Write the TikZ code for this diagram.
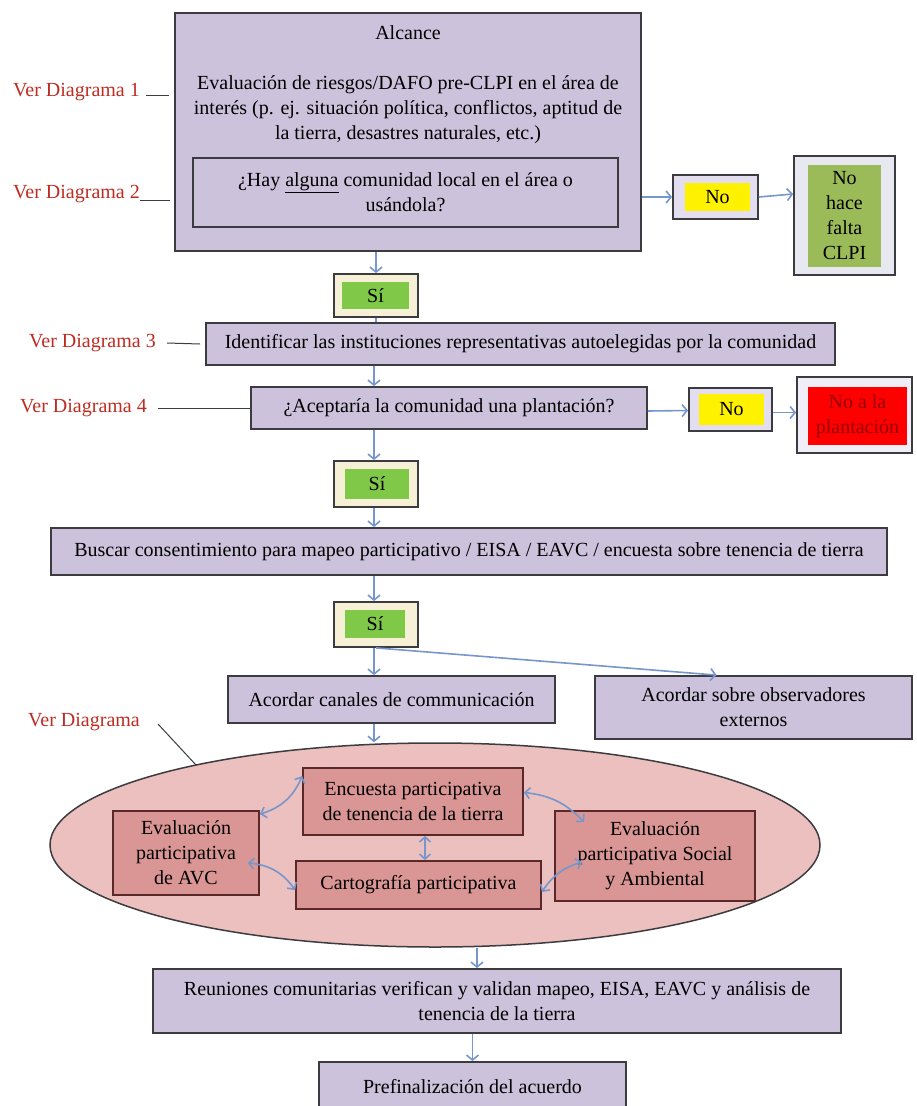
\documentclass[tikz,border=0pt]{standalone}
\usepackage{fontspec}
\setmainfont{Liberation Serif}
\usetikzlibrary{arrows.meta,shapes.geometric,calc}
\definecolor{lav}{RGB}{204,194,220}
\definecolor{lavlight}{RGB}{226,222,240}
\definecolor{bordc}{RGB}{60,60,64}
\definecolor{cream}{RGB}{246,240,214}
\definecolor{sigreen}{RGB}{128,200,72}
\definecolor{olive}{RGB}{155,187,89}
\definecolor{grayouter}{RGB}{232,232,240}
\definecolor{redouter}{RGB}{240,238,246}
\definecolor{darkred}{RGB}{150,0,0}
\definecolor{vdred}{RGB}{190,45,35}
\definecolor{arrc}{RGB}{118,150,204}
\definecolor{ellpink}{RGB}{236,192,190}
\definecolor{salmon}{RGB}{218,150,148}
\definecolor{pinkbord}{RGB}{90,40,40}
\begin{document}
\begin{tikzpicture}[x=1pt,y=-1pt,
  font=\fontsize{20}{25}\selectfont,
  box/.style={draw=bordc, line width=1.8pt, fill=lav, inner sep=0pt, align=center},
  outerbox/.style={draw=bordc, line width=1.8pt, inner sep=0pt},
  fillbox/.style={inner sep=0pt, align=center},
  pinkbox/.style={draw=pinkbord, line width=1.8pt, fill=salmon, inner sep=0pt, align=center},
  arr/.style={draw=arrc, line width=1.6pt, -{Straight Barb[length=5pt,width=12pt]}},
  darr/.style={draw=arrc, line width=1.6pt, {Straight Barb[length=5pt,width=11pt]}-{Straight Barb[length=5pt,width=11pt]}},
  plainline/.style={draw=arrc, line width=1.6pt},
  lbl/.style={text=vdred, anchor=west, inner sep=0pt},
  lblline/.style={draw=bordc, line width=1pt}
]
\useasboundingbox[fill=white] (0,0) rectangle (916,1106);

% --- Alcance block
\node[box, minimum width=466pt, minimum height=238pt] (alc) at (408,132) {};
\node[inner sep=0pt] (alct) at (408,33) {Alcance};
\node[inner sep=0pt, align=center] (evalt) at (408,110) {Evaluación de riesgos/DAFO pre-CLPI en el área de\\interés (p. ej. situación política, conflictos, aptitud de\\la tierra, desastres naturales, etc.)};
\node[box, minimum width=425pt, minimum height=69pt] (hay) at (405.5,192.5) {¿Hay \underline{alguna} comunidad local en el área o\\usándola?};

\node[outerbox, fill=lavlight, minimum width=85pt, minimum height=44pt] (no1) at (715.5,197) {};
\node[fillbox, fill=yellow, minimum width=65pt, minimum height=28pt] (no1t) at (717.5,197) {No};

\node[outerbox, fill=grayouter, minimum width=101pt, minimum height=119pt] (nohace) at (844.5,215.5) {};
\node[fillbox, fill=olive, minimum width=73pt, minimum height=102pt] (nohacet) at (844.5,216) {No\\hace\\falta\\CLPI};

\node[outerbox, fill=cream, minimum width=84pt, minimum height=43pt] (si1) at (376,295.5) {};
\node[fillbox, fill=sigreen, minimum width=67pt, minimum height=27pt] (si1t) at (375.5,295.5) {Sí};

\node[box, minimum width=629pt, minimum height=42pt] (ident) at (520.5,344) {Identificar las instituciones representativas autoelegidas por la comunidad};

\node[box, minimum width=396pt, minimum height=42pt] (acept) at (449,408) {¿Aceptaría la comunidad una plantación?};

\node[outerbox, fill=lavlight, minimum width=83pt, minimum height=43pt] (no2) at (730.5,409.5) {};
\node[fillbox, fill=yellow, minimum width=65pt, minimum height=31pt] (no2t) at (731.5,409.5) {No};

\node[outerbox, fill=redouter, minimum width=115pt, minimum height=76pt] (noplant) at (854.5,415) {};
\node[fillbox, fill=red, text=darkred, minimum width=99pt, minimum height=58pt] (noplantt) at (857.5,416) {No a la\\plantación};

\node[outerbox, fill=cream, minimum width=84pt, minimum height=46pt] (si2) at (376,484) {};
\node[fillbox, fill=sigreen, minimum width=64pt, minimum height=30pt] (si2t) at (377,484) {Sí};

\node[box, minimum width=836pt, minimum height=47pt] (buscar) at (469,551.5) {Buscar consentimiento para mapeo participativo / EISA / EAVC / encuesta sobre tenencia de tierra};

\node[outerbox, fill=cream, minimum width=84pt, minimum height=45pt] (si3) at (376,624.5) {};
\node[fillbox, fill=sigreen, minimum width=60pt, minimum height=28pt] (si3t) at (375,624) {Sí};

\node[box, minimum width=327pt, minimum height=47pt] (canales) at (391.5,699.5) {Acordar canales de communicación};
\node[box, minimum width=317pt, minimum height=63pt] (obs) at (753.5,707.5) {Acordar sobre observadores\\externos};

% --- ellipse
\node[draw=bordc, line width=1.5pt, fill=ellpink, ellipse, minimum width=770pt, minimum height=204pt, inner sep=0pt] (ell) at (435,845) {};
\node[pinkbox, minimum width=220pt, minimum height=67pt] (enc) at (413,801.5) {Encuesta participativa\\de tenencia de la tierra};
\node[pinkbox, minimum width=146pt, minimum height=84pt] (avc) at (186,853) {Evaluación\\participativa\\de AVC};
\node[pinkbox, minimum width=245pt, minimum height=48pt] (carto) at (418.5,885) {Cartografía participativa};
\node[pinkbox, minimum width=200pt, minimum height=90pt] (soc) at (655,856) {Evaluación\\participativa Social\\y Ambiental};

\node[box, minimum width=688pt, minimum height=64pt] (reun) at (497,1001) {Reuniones comunitarias verifican y validan mapeo, EISA, EAVC y análisis de\\tenencia de la tierra};
\node[box, minimum width=307pt, minimum height=50pt] (pref) at (472.5,1087) {Prefinalización del acuerdo};

% --- side labels
\node[lbl] (vd1) at (13,92) {Ver Diagrama 1};
\node[lbl] (vd2) at (13,194) {Ver Diagrama 2};
\node[lbl] (vd3) at (29,343) {Ver Diagrama 3};
\node[lbl] (vd4) at (20,408) {Ver Diagrama 4};
\node[lbl] (vd5) at (28,722) {Ver Diagrama};
\coordinate (vd1e) at (169,95);
\coordinate (vd2e) at (170,200);
\coordinate (vd5s) at (158,724);
\coordinate (vd5e) at (196,765);
\draw[lblline] ([xshift=6pt]vd1.east |- vd1e) -- (vd1e);
\draw[lblline] (vd2.east |- vd2e) -- (vd2e);
\draw[lblline] ([xshift=11pt]vd3.east) -- ([xshift=-5pt]ident.west);
\draw[lblline] ([xshift=11pt]vd4.east) -- (acept.west);
\draw[lblline] (vd5s) -- (vd5e);

% --- connectors
\draw[arr] (si1.north |- alc.south) -- (si1.north);
\draw[arr] (alc.east |- no1) -- (no1.west);
\draw[arr] (no1.east) -- ([yshift=3pt]nohace.west |- no1.east);
\draw[plainline] (si1.south) -- (si1.south |- ident.north);
\draw[arr] ([xshift=-2pt]si1.south |- ident.south) -- ([xshift=-2pt]si1.south |- acept.north);
\draw[arr] ([yshift=-3pt]acept.east) -- ([yshift=-1pt]no2.west);
\draw[arr] ([yshift=-3pt]no2.east) -- ([yshift=-3pt]noplant.west |- no2.east);
\draw[arr] ([xshift=-2pt]si2.north |- acept.south) -- ([xshift=-2pt]si2.north);
\draw[arr] ([xshift=-2pt]si2.south) -- ([xshift=-2pt]si2.south |- buscar.north);
\draw[arr] ([xshift=-2pt]si3.north |- buscar.south) -- ([xshift=-2pt]si3.north);
\draw[arr] ([xshift=-2pt]si3.south) -- ([xshift=-2pt]si3.south |- canales.north);
\draw[arr] (si3.south) -- ([xshift=-37pt]obs.north);
\draw[arr] ([xshift=-2pt]si3.south |- canales.south) -- ([xshift=-2pt]ell.north -| si3.south);
\draw[arr] ([xshift=-20pt]reun.north |- ell.south) -- ([xshift=-20pt]reun.north);
\draw[arr] (pref.north |- reun.south) -- (pref.north);

% --- ellipse internal links
\draw[darr] ([yshift=-4pt]avc.north east) to[bend right=25] ([yshift=-9pt]enc.north west);
\draw[darr] ([xshift=-12pt,yshift=-10pt]avc.east) to[bend left=25] ([yshift=-5pt]carto.west);
\draw[darr] ([xshift=12pt]enc.south) -- ([xshift=6.5pt]carto.north);
\draw[darr] ([yshift=9pt]enc.east) to[bend left=20] ([xshift=30pt,yshift=-12pt]soc.north west);
\draw[darr] ([xshift=28pt,yshift=-6pt]soc.west) to[bend right=20] ([yshift=-7pt]carto.east);
\end{tikzpicture}
\end{document}
